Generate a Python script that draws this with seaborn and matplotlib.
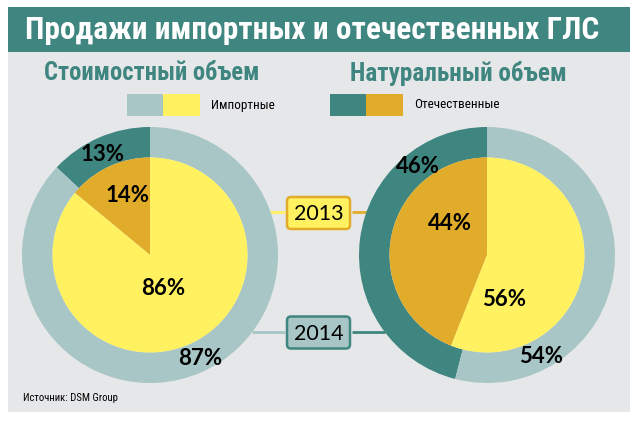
import numpy as np
import matplotlib
matplotlib.use("Agg")
import matplotlib.pyplot as plt
import seaborn as sns
from matplotlib.patches import Rectangle, FancyBboxPatch

# --- данные ---
title = "Продажи импортных и отечественных ГЛС"
panel_titles = ["Стоимостный объем", "Натуральный объем"]
legend_labels = ["Импортные", "Отечественные"]
years = ["2013", "2014"]
source = "Источник: DSM Group"

# доли, %: [отечественные, импортные]
value_2013 = [14, 86]
value_2014 = [13, 87]
volume_2013 = [44, 56]
volume_2014 = [46, 54]

# --- оформление ---
TEAL = "#3F8580"
LIGHT_TEAL = "#A7C6C5"
YELLOW = "#FFF15F"
ORANGE = "#E2AC2B"
PANEL = "#E6E7E9"

W, H = 637, 422

sns.set_theme(style="white")
plt.rcParams['font.family'] = ['DejaVu Sans']

fig = plt.figure(figsize=(W / 100, H / 100), dpi=100)
fig.patch.set_facecolor("white")

bg = fig.add_axes([0, 0, 1, 1])
bg.set_xlim(0, W)
bg.set_ylim(H, 0)
bg.axis("off")

bg.add_patch(Rectangle((8, 7), 622, 45, color=TEAL, lw=0))
bg.add_patch(Rectangle((8, 52), 622, 360, color=PANEL, lw=0))

cond = dict(family=["Roboto Condensed", "Roboto", "DejaVu Sans"])
renderer = fig.canvas.get_renderer()


def fit_width(txt, width_px):
    # подгоняем кегль под ширину текста на образце
    w = txt.get_window_extent(renderer).width
    txt.set_fontsize(txt.get_fontsize() * width_px / w)


t = bg.text(25, 30, title, color="white", fontsize=23, fontweight="bold",
            ha="left", va="center", **cond)
fit_width(t, 575)
t = bg.text(152, 73, panel_titles[0], color=TEAL, fontsize=17,
            fontweight="bold", ha="center", va="center", **cond)
fit_width(t, 215)
t = bg.text(458, 73, panel_titles[1], color=TEAL, fontsize=17,
            fontweight="bold", ha="center", va="center", **cond)
fit_width(t, 217)

# легенда
for x0, cols, lab, wpx in [(127, (LIGHT_TEAL, YELLOW), legend_labels[0], 63),
                           (330, (TEAL, ORANGE), legend_labels[1], 86)]:
    bg.add_patch(Rectangle((x0, 94), 36, 22, color=cols[0], lw=0))
    bg.add_patch(Rectangle((x0 + 36, 94), 37, 22, color=cols[1], lw=0))
    t = bg.text(x0 + 84, 105, lab, fontsize=9, color="black",
                ha="left", va="center", **cond)
    fit_width(t, wpx)

t = bg.text(23, 398, source, fontsize=8.5, color="black",
            ha="left", va="center", **cond)
fit_width(t, 94)

# соединительные линии и подписи годов
bg.plot([238, 285], [212, 212], color=YELLOW, lw=2, solid_capstyle="butt")
bg.plot([352, 398], [212, 212], color=ORANGE, lw=2, solid_capstyle="butt")
bg.plot([252, 285], [332, 332], color=LIGHT_TEAL, lw=2, solid_capstyle="butt")
bg.plot([352, 385], [332, 332], color=TEAL, lw=2, solid_capstyle="butt")

for yc, face, edge, yr in [(213, YELLOW, ORANGE, years[0]),
                           (332.5, LIGHT_TEAL, TEAL, years[1])]:
    bg.add_patch(FancyBboxPatch((287, yc - 16), 63, 32,
                                boxstyle="round,pad=0,rounding_size=4",
                                fc=face, ec=edge, lw=1.8))
    bg.text(318.5, yc + 1, yr, fontsize=15.5, family="Lato",
            ha="center", va="center", color="black")

R_OUT = 128
R_IN = 97.5 / 128


def donut(cx, cy, outer_vals, inner_vals, outer_pos, inner_pos):
    ax = fig.add_axes([(cx - R_OUT) / W, (H - cy - R_OUT) / H,
                       2 * R_OUT / W, 2 * R_OUT / H])
    fmt = lambda p: f"{p:.0f}%"
    _, _, out_txt = ax.pie(outer_vals, radius=1, startangle=90,
                           colors=[TEAL, LIGHT_TEAL], autopct=fmt,
                           wedgeprops=dict(width=1 - R_IN, lw=0))
    _, _, in_txt = ax.pie(inner_vals, radius=R_IN, startangle=90,
                          colors=[ORANGE, YELLOW], autopct=fmt,
                          wedgeprops=dict(lw=0))
    for txt, (ang, dist) in zip(list(out_txt) + list(in_txt),
                                outer_pos + inner_pos):
        a = np.deg2rad(ang)
        txt.set_position((dist * np.cos(a), dist * np.sin(a)))
        txt.set_fontsize(16)
        txt.set_fontweight("bold")
        txt.set_family("Lato")
        txt.set_color("black")
    ax.set_xlim(-1, 1)
    ax.set_ylim(-1, 1)
    ax.set_aspect("equal")
    ax.axis("off")


donut(150, 255, value_2014, value_2013,
      [(115, 0.87), (-64, 0.9)], [(111, 0.5), (-68, 0.28)])
donut(487, 255, volume_2014, volume_2013,
      [(128, 0.88), (-62, 0.9)], [(140, 0.38), (-69, 0.37)])

fig.savefig("out.png", dpi=100, facecolor=fig.get_facecolor())
